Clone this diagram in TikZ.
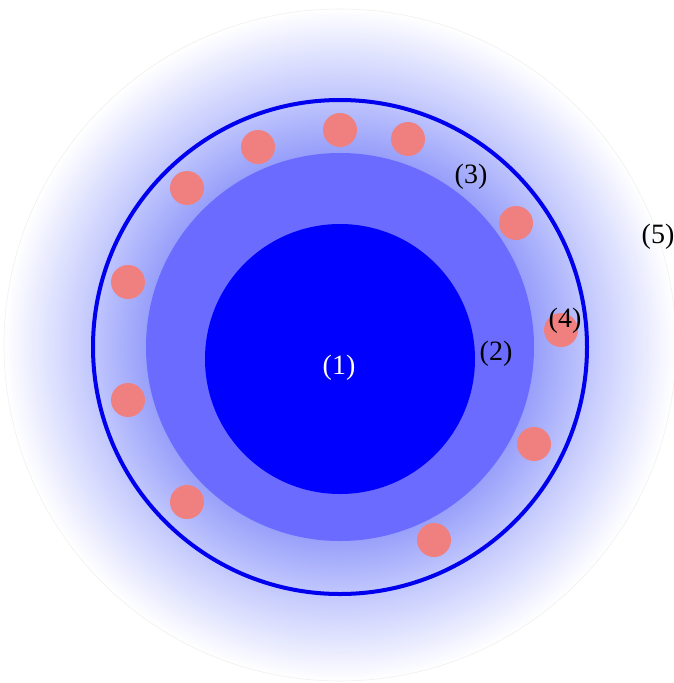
\documentclass[tikz,border=0pt]{standalone}
\usepackage{fontspec}
\setmainfont{Liberation Serif}
\definecolor{core}{HTML}{0000FF}
\definecolor{mantle}{HTML}{6B6BFF}
\definecolor{glowin}{HTML}{979FFA}
\definecolor{glowmid}{HTML}{C0C6FD}
\definecolor{dotpink}{HTML}{F08080}
\definecolor{ringblue}{HTML}{0000EE}
\pgfdeclareradialshading{glow}{\pgfpoint{0bp}{0bp}}{color(0bp)=(glowin); color(14.4bp)=(glowin); color(18.4bp)=(glowmid); color(25bp)=(white); color(50bp)=(white)}
\begin{document}
\begin{tikzpicture}[x=1pt,y=-1pt,
  lbl/.style={font=\fontsize{28}{32}\selectfont, inner sep=0pt},
  dotc/.style={fill=dotpink}]
\useasboundingbox (0,0) rectangle (674,683);
\fill[white] (0,0) rectangle (674,683);
% glow halo
\shade[shading=glow] (340,345) circle (336pt);
\draw[black!6, line width=0.6pt] (340,345) circle (336pt);
% mantle and core
\fill[mantle] (340,347) circle (194pt);
\fill[core] (340,359) circle (135pt);
% ring
\draw[ringblue, line width=4pt] (340,347) circle (247pt);
% dots
\foreach \px/\py [count=\i] in {340/130, 408/139, 258/147, 187/188, 516/223, 128/282, 561/330, 128/400, 534/444, 187/502, 434/540}
  \fill[dotc] (\px,\py) circle (17pt) coordinate (d\i);
% labels
\node[lbl, text=white] (l1) at (339,368) {(1)};
\node[lbl] (l2) at (496,354) {(2)};
\node[lbl] (l3) at (471,177) {(3)};
\node[lbl] (l4) at (565,321) {(4)};
\node[lbl] (l5) at (658,237) {(5)};
\end{tikzpicture}
\end{document}
